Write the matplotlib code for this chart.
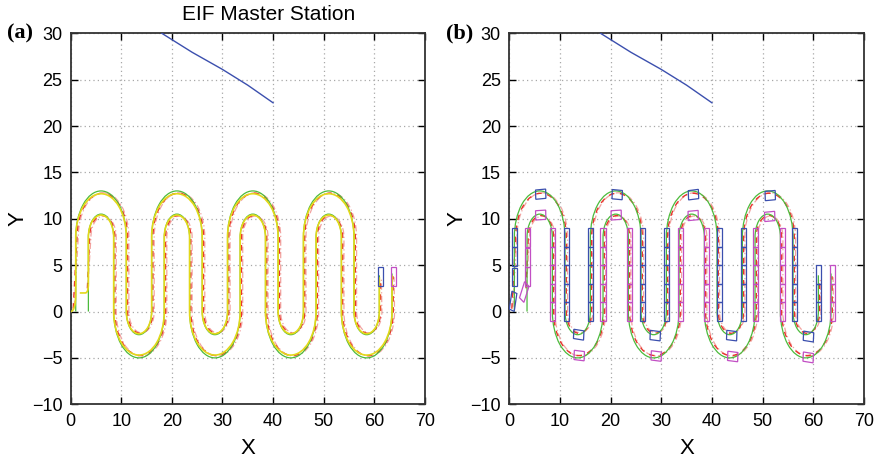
import matplotlib
matplotlib.use('Agg')
import matplotlib.pyplot as plt
from matplotlib.path import Path
from matplotlib.patches import PathPatch, Rectangle
from matplotlib.transforms import Affine2D

plt.rcParams['font.family'] = ['Liberation Sans', 'DejaVu Sans']

# lane geometry (centres of the turning arcs)
top_cx = [6, 21, 36, 51]
bot_cx = [13.5, 28.5, 43.5, 58.5]
top_cy = 8
bot_cy = 0

# master station track (blue line at top)
master_x = [18, 24, 30, 35, 40]
master_y = [30.0, 27.95, 26.1, 24.4, 22.5]

# final vehicle boxes in panel (a): centre x, centre y
end_box_a = [(61.3, 3.8), (63.8, 3.8)]

# panel (b) vehicle snapshots
col_y = [0, 2, 4, 6, 8]
blue_col_x = [11.2, 16.0, 26.3, 31.1, 41.4, 46.2, 56.3]
mag_col_x = [8.6, 18.5, 23.8, 33.7, 38.9, 48.6, 53.9]
blue_start_y = [3.7, 5.95, 8.0]      # at x = 1.0
mag_start_y = [3.75, 5.85, 7.95]     # at x = 3.6
blue_end_y = [0, 2, 4]               # at x = 61.1
mag_end_y = [0, 2, 4]                # at x = 63.7
blue_top = [(6.2, 12.65, 3), (21.3, 12.6, -3), (36.35, 12.6, 4), (51.5, 12.5, 3)]
blue_bot = [(13.7, -2.5, -5), (28.8, -2.6, -4), (43.9, -2.6, -4), (59.05, -2.7, -5)]
mag_top = [(6.2, 10.4, 2), (21.1, 10.4, 2), (36.3, 10.35, 3), (51.4, 10.25, 3)]
mag_bot = [(13.8, -4.75, -4), (29.0, -4.8, -4), (44.1, -4.85, -4), (59.0, -4.95, -5)]
blue_tilt = (0.75, 1.1, -15)
mag_tilt = (2.95, 2.1, -30)

GREEN = '#4cbb3c'
YELLOW = '#e3d81a'
RED = '#e8342c'
PINK = '#f2a3a0'
BLUE = '#3b4fae'
MAG = '#c24fc4'


def lane(start, end, r_top, r_bot, ry_top, ry_bot, dx=0.0):
    verts = [start]
    codes = [Path.MOVETO]
    for i in range(len(top_cx)):
        a = Path.arc(0, 180)
        v = Affine2D().scale(r_top, ry_top).translate(top_cx[i] + dx, top_cy).transform(a.vertices[::-1])
        verts.extend(v)
        codes.extend([Path.LINETO] + list(a.codes[1:]))
        b = Path.arc(180, 360)
        v = Affine2D().scale(r_bot, ry_bot).translate(bot_cx[i] + dx, bot_cy).transform(b.vertices)
        verts.extend(v)
        codes.extend([Path.LINETO] + list(b.codes[1:]))
    verts.append(end)
    codes.append(Path.LINETO)
    return Path(verts, codes)


def draw_path(ax, path, color, lw, ls='-', z=2):
    ax.add_patch(PathPatch(path, fill=False, edgecolor=color, lw=lw, linestyle=ls, zorder=z))


def box(ax, cx, cy, w, h, color, angle=0):
    ax.add_patch(Rectangle((cx - w / 2, cy - h / 2), w, h, angle=angle, rotation_point='center',
                           fill=False, edgecolor=color, lw=0.9, zorder=4))


def style(ax):
    ax.set_xlim(0, 70)
    ax.set_ylim(-10, 30)
    ax.set_xticks(range(0, 71, 10))
    ax.set_yticks(range(-10, 31, 5))
    ax.set_yticklabels(['\u221210', '\u22125', '0', '5', '10', '15', '20', '25', '30'])
    ax.grid(True, linestyle=(0, (1, 2.5)), color='#a8a8a8', lw=0.9)
    ax.tick_params(direction='in', top=True, right=True, length=5, width=1, labelsize=13, pad=6)
    for s in ax.spines.values():
        s.set_linewidth(1.3)
        s.set_color('#333333')
    ax.set_xlabel('X', fontsize=16, labelpad=6)
    ax.set_ylabel('Y', fontsize=16, labelpad=2)
    ax.plot(master_x, master_y, color=BLUE, lw=1.0, zorder=3)


fig = plt.figure(figsize=(8.79, 4.62), dpi=100)
ax1 = fig.add_axes([0.0804, 0.125, 0.403, 0.803])
ax2 = fig.add_axes([0.5794, 0.125, 0.4035, 0.803])

# reference lanes
greenA = lane((1, 0), (61, 3.9), 5, 2.5, 5, 2.5)
greenB = lane((3.5, 0), (63.5, 4.1), 2.5, 5, 2.5, 5)
# travelled paths
yelA = lane((1, 2), (61, 3.7), 5, 2.5, 4.7, 2.4)
yelB = lane((3.5, 3), (63.5, 3.9), 2.5, 5, 2.4, 4.7)
redA = lane((0.5, 0.3), (61.2, 3.6), 5, 2.5, 4.75, 2.35, dx=0.25)
redB = lane((3.3, 2.5), (63.7, 3.8), 2.5, 5, 2.35, 4.75, dx=0.25)
pinkA = lane((0.7, 0.5), (61.4, 3.5), 5, 2.5, 4.8, 2.3, dx=0.5)
pinkB = lane((3.4, 2.7), (63.9, 3.7), 2.5, 5, 2.3, 4.8, dx=0.5)

for ax in (ax1, ax2):
    style(ax)
    draw_path(ax, pinkA, PINK, 0.9, (0, (5, 2, 1, 2)), 2)
    draw_path(ax, pinkB, PINK, 0.9, (0, (5, 2, 1, 2)), 2)
    draw_path(ax, redA, RED, 1.0, (0, (4, 4)), 2.2)
    draw_path(ax, redB, RED, 1.0, (0, (4, 4)), 2.2)
    draw_path(ax, greenA, GREEN, 0.9, '-', 2.5)
    draw_path(ax, greenB, GREEN, 0.9, '-', 2.5)

# panel (a): yellow travelled path and start manoeuvres
draw_path(ax1, yelA, YELLOW, 1.2, '-', 3)
draw_path(ax1, yelB, YELLOW, 1.2, '-', 3)
draw_path(ax1, Path([(0, 0), (1, 0), (1, 2)], [Path.MOVETO, Path.CURVE3, Path.CURVE3]), YELLOW, 1.2, '-', 3)
draw_path(ax1, Path([(1.8, 2), (2.9, 2), (3.5, 2), (3.5, 3)],
                    [Path.MOVETO, Path.LINETO, Path.CURVE3, Path.CURVE3]), YELLOW, 1.2, '-', 3)
box(ax1, end_box_a[0][0], end_box_a[0][1], 1.0, 2.0, BLUE)
box(ax1, end_box_a[1][0], end_box_a[1][1], 1.0, 2.0, MAG)

# panel (b): vehicle snapshots
for x in blue_col_x:
    for y in col_y:
        box(ax2, x, y, 1.0, 2.0, BLUE)
for x in mag_col_x:
    for y in col_y:
        box(ax2, x, y, 1.0, 2.0, MAG)
for y in blue_start_y:
    box(ax2, 1.0, y, 1.0, 2.0, BLUE)
for y in mag_start_y:
    box(ax2, 3.6, y, 1.0, 2.0, MAG)
for y in blue_end_y:
    box(ax2, 61.1, y, 1.0, 2.0, BLUE)
for y in mag_end_y:
    box(ax2, 63.7, y, 1.0, 2.0, MAG)
for cx, cy, a in blue_top + blue_bot:
    box(ax2, cx, cy, 2.0, 1.0, BLUE, a)
for cx, cy, a in mag_top + mag_bot:
    box(ax2, cx, cy, 2.0, 1.0, MAG, a)
box(ax2, blue_tilt[0], blue_tilt[1], 1.0, 2.0, BLUE, blue_tilt[2])
box(ax2, mag_tilt[0], mag_tilt[1], 1.0, 2.0, MAG, mag_tilt[2])

fig.text(268.5 / 879, 1 - 14 / 462, 'EIF Master Station', ha='center', va='center', fontsize=15)
fig.text(7 / 879, 1 - 33 / 462, '(a)', ha='left', va='center', fontsize=16, fontweight='bold',
         family=['Liberation Serif', 'DejaVu Serif'])
fig.text(446 / 879, 1 - 33 / 462, '(b)', ha='left', va='center', fontsize=16, fontweight='bold',
         family=['Liberation Serif', 'DejaVu Serif'])

fig.savefig('out.png', dpi=100)
